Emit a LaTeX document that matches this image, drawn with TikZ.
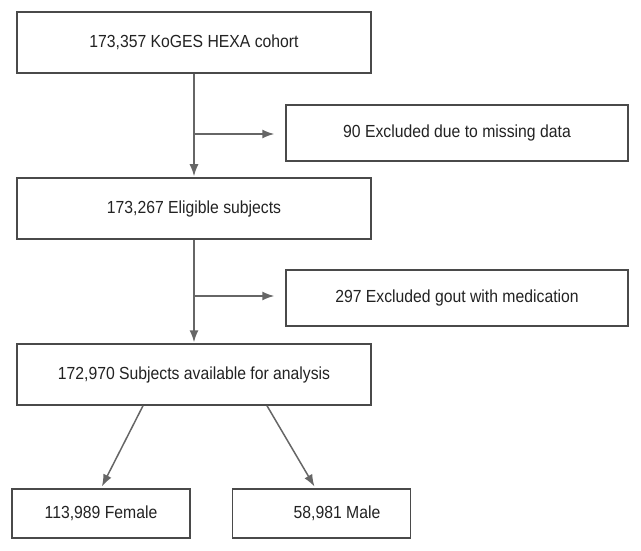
\documentclass[tikz,border=0pt]{standalone}
\usepackage{fontspec}
\setmainfont[FakeStretch=0.9]{Liberation Sans}
\usepackage{xcolor}
\usepackage{tikz}
\usetikzlibrary{arrows.meta,positioning}
\definecolor{boxline}{HTML}{4A4A4A}
\definecolor{arrowline}{HTML}{666666}
\definecolor{textcol}{HTML}{222222}
\tikzstyle{line} = [draw=arrowline, line width=1.5pt, -{Latex[length=12pt,width=9pt]}]
\tikzset{
    every node/.style={font=\fontsize{17.5}{20}\selectfont, text=textcol}
}

\begin{document}
\begin{tikzpicture}[x=1pt,y=-1pt]
            % Define styles for the boxes
            \tikzstyle{stage} = [rectangle, draw=boxline, line width=1.5pt,
                minimum width=354pt, minimum height=61pt, inner sep=0pt]
            \tikzstyle{excl} = [rectangle, draw=boxline, line width=1.5pt,
                minimum width=342pt, minimum height=56pt, inner sep=0pt]
            \tikzstyle{group} = [rectangle, draw=boxline, line width=1.5pt,
                minimum width=178pt, minimum height=49pt, inner sep=0pt]

            % Fix the page size
            \useasboundingbox (0,0) rectangle (641,551);

            % Draw main stages
            \node[stage] (cohort) at (194,42.5) {173,357 KoGES HEXA cohort};
            \node[stage] (elig) at (194,208.5) {173,267 Eligible subjects};
            \node[stage] (avail) at (194,374.5) {172,970 Subjects available for analysis};

            % Draw exclusions
            \node[excl] (excl1) at (457,133) {90 Excluded due to missing data};
            \node[excl] (excl2) at (457,298) {297 Excluded gout with medication};

            % Draw groups
            \node[group] (female) at (101,513.5) {113,989 Female};
            \node[group] (male) at (321.5,513.5) {\hspace*{31pt}58,981 Male};

            % Draw flow
            \draw[line, shorten >=1pt] (cohort) -- (elig);
            \draw[line, shorten >=1pt] (elig) -- (avail);
            \coordinate (b1) at (194,134);
            \coordinate (b2) at (194,296);
            \draw[line, shorten >=11pt] (b1) -- (b1 -| excl1.west);
            \draw[line, shorten >=11pt] (b2) -- (b2 -| excl2.west);
            \draw[line, shorten >=2pt] ([xshift=-51pt]avail.south) -- (female.north);
            \draw[line, shorten >=2pt] ([xshift=73pt]avail.south) -- ([xshift=-6pt]male.north);
        \end{tikzpicture}
\end{document}
